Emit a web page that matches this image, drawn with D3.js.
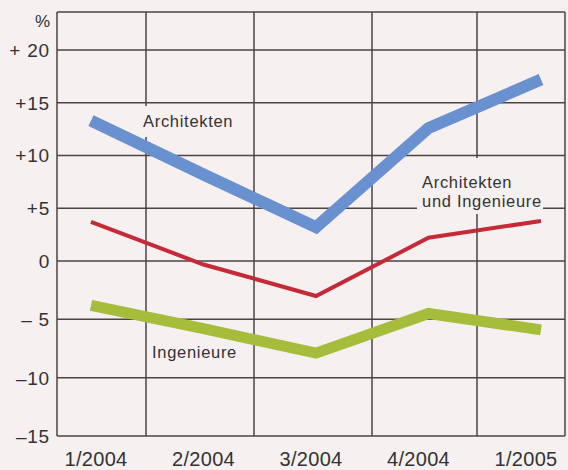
<!DOCTYPE html>
<html>
<head>
<meta charset="utf-8">
<script src="https://cdn.jsdelivr.net/npm/d3@7"></script>
<style>
  body { margin: 0; background: #f6f0f1; }
  svg { display: block; }
  text { font-family: "Liberation Sans", Arial, sans-serif; fill: #333; }
</style>
</head>
<body>
<div id="chart"></div>
<script>
// quarters and survey values (change vs. previous year, %)
var quarters = ["1/2004", "2/2004", "3/2004", "4/2004", "1/2005"];
var architekten = [13.3, 8.2, 3.2, 12.6, 17.2];
var beide = [3.7, -0.3, -3.0, 2.2, 3.8];
var ingenieure = [-3.8, -5.8, -7.9, -4.5, -5.9];

var yTicks = [20, 15, 10, 5, 0, -5, -10, -15];
var yTickLabels = ["+ 20", "+15", "+10", "+5", "0", "\u2013 5", "\u201310", "\u201315"];

var width = 568, height = 470;
var frame = { left: 57, right: 565, top: 12, bottom: 436 };
// column edges of the background grid (not tied to the quarters)
var colEdges = [57, 146, 254, 372, 477, 565];

var svg = d3.select("#chart").append("svg")
  .attr("width", width)
  .attr("height", height);

svg.append("rect")
  .attr("width", width)
  .attr("height", height)
  .attr("fill", "#f6f0f1");

// Scales (the printed grid is slightly stretched towards the bottom)
var x = d3.scalePoint()
  .domain(quarters)
  .range([91, 541]);

var xLabel = d3.scalePoint()
  .domain(quarters)
  .range([96, 526]);

var y = d3.scaleLinear()
  .domain([-15, 0, 20])
  .range([436, 261, 50]);

// Grid
var grid = svg.append("g")
  .attr("stroke", "#4a4541")
  .attr("stroke-width", 1.5);

grid.selectAll(".hline")
  .data(yTicks.slice(0, -1))
  .enter()
  .append("line")
  .attr("x1", frame.left)
  .attr("x2", frame.right)
  .attr("y1", function (d) { return y(d); })
  .attr("y2", function (d) { return y(d); });

grid.selectAll(".vline")
  .data(colEdges)
  .enter()
  .append("line")
  .attr("x1", function (d) { return d; })
  .attr("x2", function (d) { return d; })
  .attr("y1", frame.top)
  .attr("y2", frame.bottom);

grid.append("line")
  .attr("x1", frame.left).attr("x2", frame.right)
  .attr("y1", frame.top).attr("y2", frame.top);
grid.append("line")
  .attr("x1", frame.left).attr("x2", frame.right)
  .attr("y1", frame.bottom).attr("y2", frame.bottom);

// Y tick labels
svg.append("g")
  .selectAll("text")
  .data(yTicks)
  .enter()
  .append("text")
  .attr("x", 50)
  .attr("y", function (d) { return y(d); })
  .attr("dy", "0.36em")
  .attr("text-anchor", "end")
  .style("font-size", "19px")
  .style("letter-spacing", "0.8px")
  .text(function (d, i) { return yTickLabels[i]; });

svg.append("text")
  .attr("x", 50)
  .attr("y", 27)
  .attr("text-anchor", "end")
  .style("font-size", "17px")
  .text("%");

// X labels
svg.append("g")
  .selectAll("text")
  .data(quarters)
  .enter()
  .append("text")
  .attr("x", function (d) { return xLabel(d); })
  .attr("y", 466)
  .attr("text-anchor", "middle")
  .style("font-size", "20px")
  .style("letter-spacing", "0.3px")
  .text(function (d) { return d; });

// Label backgrounds that cut the grid
svg.append("rect")
  .attr("x", 138).attr("y", 106)
  .attr("width", 100).attr("height", 31)
  .attr("fill", "#f6f0f1");
svg.append("rect")
  .attr("x", 417).attr("y", 158)
  .attr("width", 126).attr("height", 56)
  .attr("fill", "#f6f0f1");

// Series labels
var labelStyle = function (sel) {
  sel.style("font-size", "16.5px").style("letter-spacing", "0.7px");
};
svg.append("text").attr("x", 143).attr("y", 127).call(labelStyle).text("Architekten");
svg.append("text").attr("x", 422).attr("y", 188).call(labelStyle).text("Architekten");
svg.append("text").attr("x", 422).attr("y", 207).call(labelStyle).text("und Ingenieure");
svg.append("text").attr("x", 152).attr("y", 358).call(labelStyle).text("Ingenieure");

// Lines
var line = d3.line()
  .x(function (d, i) { return x(quarters[i]); })
  .y(function (d) { return y(d); });

var series = [
  { values: ingenieure, color: "#a6bd3c", width: 11 },
  { values: beide, color: "#c52a37", width: 4 },
  { values: architekten, color: "#6990cf", width: 12 }
];

svg.append("g")
  .selectAll("path")
  .data(series)
  .enter()
  .append("path")
  .attr("d", function (d) { return line(d.values); })
  .attr("fill", "none")
  .attr("stroke", function (d) { return d.color; })
  .attr("stroke-width", function (d) { return d.width; })
  .attr("stroke-linejoin", "miter")
  .attr("stroke-linecap", "butt");
</script>
</body>
</html>
